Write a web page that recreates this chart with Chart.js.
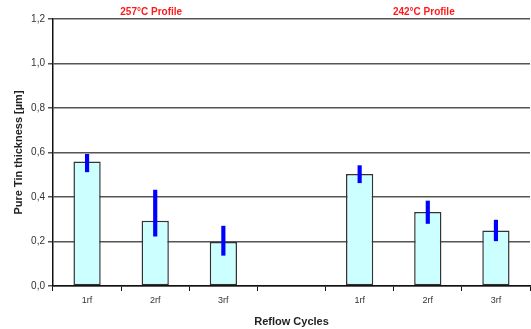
<!DOCTYPE html>
<html>
<head>
<meta charset="utf-8">
<script src="https://cdn.jsdelivr.net/npm/chart.js@4/dist/chart.umd.min.js"></script>
<style>
  html, body { margin: 0; padding: 0; background: #fff; }
  #wrap { width: 531px; height: 329px; }
</style>
</head>
<body>
<div id="wrap"><canvas id="c" width="531" height="329"></canvas></div>
<script>
// Reflow cycles for the two profiles, separated by an empty slot
const categories = ['1rf', '2rf', '3rf', '', '1rf', '2rf', '3rf'];
// Mean pure tin thickness [µm]
const thickness = [0.56, 0.293, 0.198, null, 0.503, 0.333, 0.25];
// Spread of the measurements (low / high)
const thicknessLow = [0.513, 0.224, 0.138, null, 0.464, 0.281, 0.203];
const thicknessHigh = [0.592, 0.431, 0.269, null, 0.541, 0.382, 0.296];
// Profile headings and the category they sit over
const profileLabels = ['257°C Profile', '242°C Profile'];
const profileAt = [1, 5];

const ranges = thicknessLow.map((lo, i) => lo === null ? null : [lo, thicknessHigh[i]]);
const FONT = '"Liberation Sans", Arial, sans-serif';

const profileHeadings = {
  id: 'profileHeadings',
  afterDraw(chart) {
    const ctx = chart.ctx;
    const x = chart.scales.x;
    ctx.save();
    ctx.fillStyle = '#ff1a1a';
    ctx.font = 'bold 10px ' + FONT;
    ctx.textAlign = 'center';
    ctx.textBaseline = 'middle';
    profileLabels.forEach((t, i) => {
      ctx.fillText(t, x.getPixelForValue(profileAt[i]) - 4, 12);
    });
    ctx.restore();
  }
};

new Chart(document.getElementById('c'), {
  type: 'bar',
  data: {
    labels: categories,
    datasets: [
      {
        label: 'spread',
        data: ranges,
        backgroundColor: '#0000ff',
        borderWidth: 0,
        barThickness: 3.5,
        grouped: false,
        order: 0
      },
      {
        label: 'thickness',
        data: thickness,
        backgroundColor: '#ccffff',
        borderColor: '#333',
        borderWidth: 1.5,
        borderSkipped: false,
        barPercentage: 0.4,
        categoryPercentage: 1,
        grouped: false,
        order: 1
      }
    ]
  },
  options: {
    responsive: false,
    animation: false,
    layout: { padding: { top: 19, right: 1, left: 12, bottom: 0 } },
    plugins: { legend: { display: false }, tooltip: { enabled: false } },
    scales: {
      x: {
        offset: true,
        grid: { offset: true, drawOnChartArea: false, drawTicks: true, tickLength: 5, color: '#111', lineWidth: 1 },
        border: { display: true, color: '#111', width: 1.5 },
        ticks: { color: '#333', font: { family: FONT, size: 9 }, padding: 4, maxRotation: 0 },
        title: { display: true, text: 'Reflow Cycles', color: '#222', font: { family: FONT, size: 11, weight: 'bold' }, padding: { top: 6, bottom: 0 } },
        afterFit(s) { s.height = 43; }
      },
      y: {
        min: 0, max: 1.2,
        ticks: {
          stepSize: 0.2,
          color: '#333',
          font: { family: FONT, size: 10 },
          padding: 3,
          callback: v => v.toFixed(1).replace('.', ',')
        },
        grid: { color: '#555', lineWidth: 1.5, tickLength: 5, drawTicks: true },
        border: { display: true, color: '#111', width: 1.5 },
        title: { display: true, text: 'Pure Tin thickness [µm]', color: '#222', font: { family: FONT, size: 11, weight: 'bold' }, padding: 0 },
        afterFit(s) { s.width = 41; }
      }
    }
  },
  plugins: [profileHeadings]
});
</script>
</body>
</html>
